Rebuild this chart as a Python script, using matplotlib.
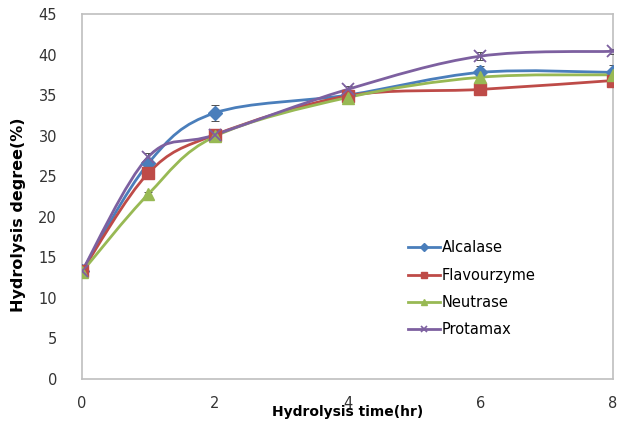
import matplotlib
matplotlib.use("Agg")
import matplotlib.pyplot as plt
from matplotlib.path import Path
from matplotlib.patches import PathPatch
from matplotlib.lines import Line2D
import numpy as np

time_hr = [0, 1, 2, 4, 6, 8]
alcalase = [13.3, 26.6, 32.8, 35.0, 37.8, 37.8]
flavourzyme = [13.3, 25.4, 30.1, 34.9, 35.7, 36.8]
neutrase = [13.2, 22.8, 29.9, 34.7, 37.2, 37.5]
protamax = [13.3, 27.4, 30.1, 35.7, 39.8, 40.4]

alcalase_err = [0.4, 0.5, 1.0, 0.3, 0.8, 0.9]
flavourzyme_err = [0.3, 0.3, 0.3, 0.3, 0.3, 0.3]
neutrase_err = [0.3, 0.3, 0.3, 0.3, 0.3, 0.3]
protamax_err = [0.3, 0.5, 0.3, 0.4, 0.5, 0.3]

labels = ["Alcalase", "Flavourzyme", "Neutrase", "Protamax"]
colors = ["#4a7ebb", "#be4b48", "#98b954", "#7d60a0"]
markers = ["D", "s", "^", "x"]
msizes = [7, 8, 8, 8]

plt.rcParams['font.family'] = ['DejaVu Sans']

fig = plt.figure(figsize=(6.18, 4.23), dpi=100)
ax = fig.add_axes([82/618, 44/423, 531/618, 365/423])


def smooth_path(xs, ys):
    pts = np.column_stack([xs, ys]).astype(float)
    n = len(pts)
    verts = [pts[0]]
    codes = [Path.MOVETO]
    for i in range(n - 1):
        p0 = pts[i - 1] if i > 0 else pts[i]
        p1 = pts[i]
        p2 = pts[i + 1]
        p3 = pts[i + 2] if i + 2 < n else pts[i + 1]
        c1 = p1 + (p2 - p0) / 6.0
        c2 = p2 - (p3 - p1) / 6.0
        verts += [c1, c2, p2]
        codes += [Path.CURVE4] * 3
    return Path(verts, codes)


series = [alcalase, flavourzyme, neutrase, protamax]
errs = [alcalase_err, flavourzyme_err, neutrase_err, protamax_err]
for ys, er, c, m, ms in zip(series, errs, colors, markers, msizes):
    patch = PathPatch(smooth_path(time_hr, ys), facecolor='none', edgecolor=c,
                      lw=2.0, zorder=2)
    ax.add_patch(patch)
    ax.errorbar(time_hr, ys, yerr=er, fmt='none', ecolor='#505050',
                elinewidth=0.7, capsize=3, capthick=0.7, zorder=3)
    ax.plot(time_hr, ys, linestyle='none', marker=m, color=c, ms=ms,
            mew=1.3 if m == 'x' else 1, zorder=4)

ax.set_xlim(0, 8)
ax.set_ylim(0, 45)
ax.set_xticks([0, 2, 4, 6, 8])
ax.set_yticks(range(0, 46, 5))
ax.tick_params(axis='both', length=0, labelsize=10.5, colors='#333333')
ax.tick_params(axis='x', pad=12)
ax.tick_params(axis='y', pad=18)
for s in ax.spines.values():
    s.set_color('#bfbfbf')
    s.set_linewidth(1.2)

ax.set_xlabel("Hydrolysis time(hr)", fontsize=10, fontweight='bold')
ax.xaxis.set_label_coords(0.5, -0.072)
ax.set_ylabel("Hydrolysis degree(%)", fontsize=11.5, fontweight='bold')
ax.yaxis.set_label_coords(-0.105, 0.45)

handles = [Line2D([0], [0], color=c, lw=2, marker=m, ms=ms * 0.6,
                  mew=1.2 if m == 'x' else 1)
           for c, m, ms in zip(colors, markers, msizes)]
ax.legend(handles, labels, loc='upper left', bbox_to_anchor=(0.614, 0.38),
          frameon=False, fontsize=10.5, handlelength=2.2, handletextpad=0.1,
          labelspacing=0.85, borderpad=0, borderaxespad=0)

fig.savefig("out.png", dpi=100)
